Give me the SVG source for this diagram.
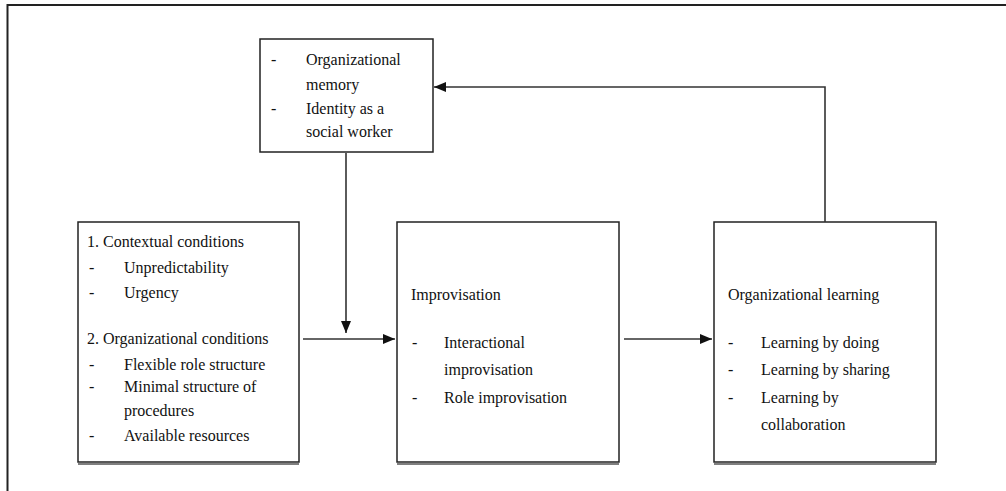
<svg xmlns="http://www.w3.org/2000/svg" width="1006" height="491" viewBox="0 0 1006 491">
<defs>
<style>
.box{fill:#fff;stroke:#222;stroke-width:1.5}
.sh{stroke:#555;stroke-width:1.5}
text{font-family:"Liberation Serif","Times New Roman",serif;font-size:16px;fill:#111}
.ln{fill:none;stroke:#333;stroke-width:1.6}
.frame{fill:none;stroke:#222;stroke-width:2}
</style>
<marker id="ah" viewBox="0 0 12 10" refX="12" refY="5" markerWidth="12" markerHeight="10" markerUnits="userSpaceOnUse" orient="auto">
<path d="M0,0 L12,5 L0,10 Z" fill="#111"/>
</marker>
</defs>
<rect width="1006" height="491" fill="#fff"/>
<path class="frame" d="M7.5,491 V5 H1006"/>

<g id="memory">
<rect class="box" x="260" y="39" width="173" height="113"/>
<text x="271" y="65">-</text>
<text x="306" y="65">Organizational</text>
<text x="306" y="90">memory</text>
<text x="271" y="114">-</text>
<text x="306" y="114">Identity as a</text>
<text x="306" y="137">social worker</text>
</g>

<g id="conditions">
<rect class="box" x="78" y="222" width="221" height="240"/>
<line class="sh" x1="78" y1="464" x2="299" y2="464"/>
<text x="87" y="247">1. Contextual conditions</text>
<text x="89" y="273">-</text>
<text x="124" y="273">Unpredictability</text>
<text x="89" y="298">-</text>
<text x="124" y="298">Urgency</text>
<text x="87" y="344">2. Organizational conditions</text>
<text x="89" y="370">-</text>
<text x="124" y="370">Flexible role structure</text>
<text x="89" y="392">-</text>
<text x="124" y="392">Minimal structure of</text>
<text x="124" y="416">procedures</text>
<text x="89" y="441">-</text>
<text x="124" y="441">Available resources</text>
</g>

<g id="improvisation">
<rect class="box" x="397" y="222" width="222" height="240"/>
<line class="sh" x1="397" y1="464" x2="619" y2="464"/>
<text x="411" y="300">Improvisation</text>
<text x="412" y="348">-</text>
<text x="444" y="348">Interactional</text>
<text x="444" y="375">improvisation</text>
<text x="412" y="403">-</text>
<text x="444" y="403">Role improvisation</text>
</g>

<g id="learning">
<rect class="box" x="714" y="222" width="222" height="240"/>
<line class="sh" x1="714" y1="464" x2="936" y2="464"/>
<text x="728" y="300">Organizational learning</text>
<text x="728" y="348">-</text>
<text x="761" y="348">Learning by doing</text>
<text x="728" y="375">-</text>
<text x="761" y="375">Learning by sharing</text>
<text x="728" y="403">-</text>
<text x="761" y="403">Learning by</text>
<text x="761" y="430">collaboration</text>
</g>

<g id="connectors">
<line class="ln" x1="346" y1="153" x2="346" y2="333" marker-end="url(#ah)"/>
<line class="ln" x1="303" y1="339" x2="395" y2="339" marker-end="url(#ah)"/>
<line class="ln" x1="624" y1="339" x2="712" y2="339" marker-end="url(#ah)"/>
<path class="ln" d="M825,222 V87 H434" marker-end="url(#ah)"/>
</g>
</svg>
